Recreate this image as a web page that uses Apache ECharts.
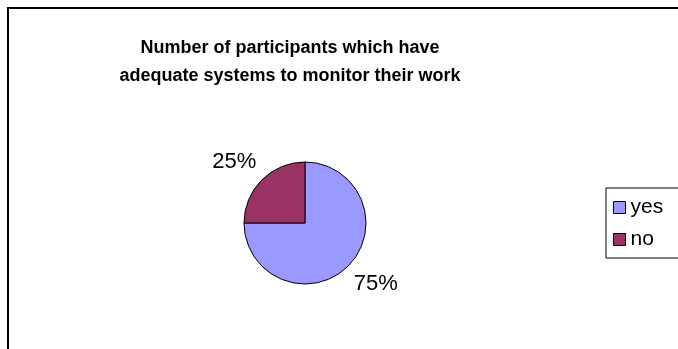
<!DOCTYPE html>
<html>
<head>
<meta charset="utf-8">
<script src="https://cdn.jsdelivr.net/npm/echarts@6/dist/echarts.min.js"></script>
<style>
  html, body { margin: 0; padding: 0; background: #fff; }
  #chart { width: 678px; height: 349px; }
</style>
</head>
<body>
<div id="chart"></div>
<script>
// Survey answers and their shares (percent)
const categories = ['yes', 'no'];
const shares = [75, 25];
const sliceColors = ['#9999FF', '#993366'];
const titleLines = ['Number of participants which have', 'adequate systems to monitor their work'];

const FONT = '"Liberation Sans", Arial, sans-serif';

const chart = echarts.init(document.getElementById('chart'), null, { renderer: 'canvas' });

chart.setOption({
  backgroundColor: '#ffffff',
  animation: false,
  title: {
    text: titleLines.join('\n'),
    left: 285,
    top: 29,
    textAlign: 'center',
    textStyle: {
      fontFamily: FONT,
      fontSize: 18,
      fontWeight: 'bold',
      color: '#000',
      lineHeight: 28
    }
  },
  legend: {
    orient: 'vertical',
    left: 606,
    top: 188,
    padding: [9, 30, 8, 7],
    itemGap: 11,
    itemWidth: 12,
    itemHeight: 12,
    icon: 'rect',
    borderColor: '#000',
    borderWidth: 1,
    itemStyle: { borderColor: '#000', borderWidth: 1 },
    textStyle: { fontFamily: FONT, fontSize: 21, color: '#000', padding: [0, 0, 0, 0] },
    data: categories
  },
  graphic: [{
    type: 'rect',
    silent: true,
    shape: { x: 8, y: 8, width: 720, height: 400 },
    style: { fill: 'none', stroke: '#000', lineWidth: 2 }
  }],
  series: [{
    type: 'pie',
    center: [305, 223],
    radius: 61,
    startAngle: 90,
    clockwise: true,
    avoidLabelOverlap: false,
    itemStyle: { borderColor: '#000', borderWidth: 1 },
    label: {
      show: true,
      position: 'outside',
      formatter: '{d}%',
      fontFamily: FONT,
      fontSize: 22,
      color: '#000',
      distanceToLabelLine: -12
    },
    labelLine: { show: false, length: 25, length2: 0 },
    emphasis: { disabled: true },
    data: categories.map((c, i) => ({
      name: c,
      value: shares[i],
      itemStyle: { color: sliceColors[i] }
    }))
  }]
});
</script>
</body>
</html>
